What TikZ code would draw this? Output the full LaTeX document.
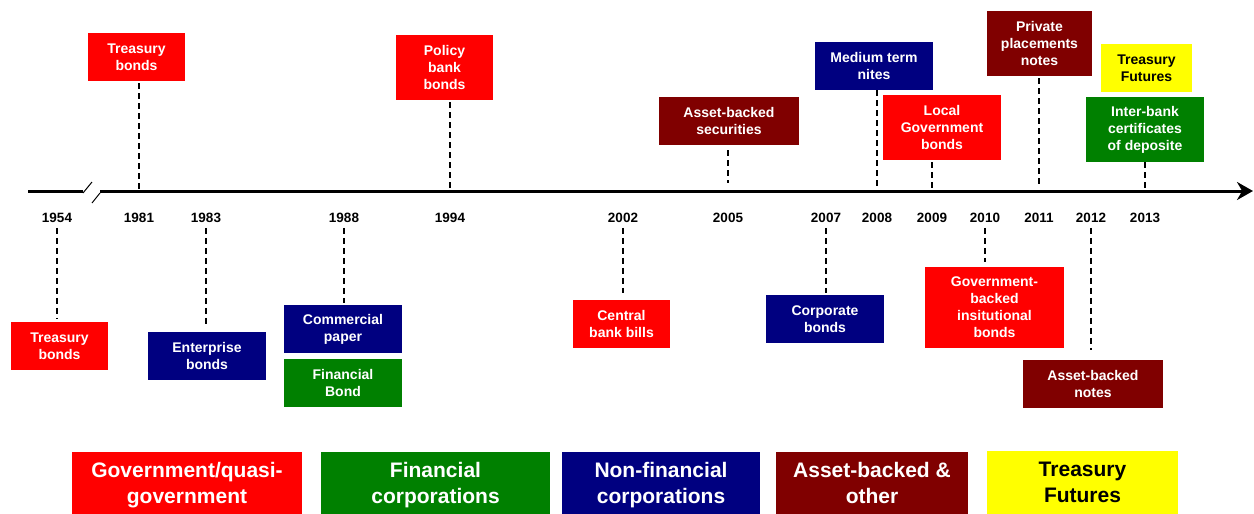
\documentclass[tikz,border=0pt]{standalone}
\usepackage{fontspec}
\setmainfont{Liberation Sans}
\usetikzlibrary{arrows.meta}
\definecolor{govred}{RGB}{255,0,0}
\definecolor{fingreen}{RGB}{0,128,0}
\definecolor{corpnavy}{RGB}{0,0,128}
\definecolor{absmaroon}{RGB}{128,0,0}
\definecolor{futyellow}{RGB}{255,255,0}

\begin{document}
\begin{tikzpicture}[x=1pt,y=-1pt]
 \tikzset{box/.style={inner sep=0pt,align=center,text=white,font=\fontsize{14}{17}\selectfont\bfseries},
   gov/.style={box,fill=govred}, fin/.style={box,fill=fingreen},
   corp/.style={box,fill=corpnavy}, abs/.style={box,fill=absmaroon},
   fut/.style={box,fill=futyellow,text=black},
   leader/.style={dash pattern=on 6pt off 4pt,line width=1.4pt,shorten <=2pt},
   yearlbl/.style={inner sep=0pt,font=\fontsize{13.5}{16}\selectfont\bfseries},
   legend/.style={minimum height=62,text depth=-7pt,font=\fontsize{21}{26}\selectfont\bfseries}}
 \useasboundingbox (0,0) rectangle (1254,514);

 % time axis, broken after 1954
 \coordinate (axL) at (28,191);
 \coordinate (brkL) at (83,191);
 \coordinate (brkR) at (100,191);
 \coordinate (axR) at (1253,191);
 \draw[line width=3pt] (axL) -- (brkL);
 \draw[line width=3pt,-{Stealth[length=16pt,width=18pt]}] (brkR) -- (axR);
 \draw[line width=1pt] (brkL) ++(0,2) -- ++(9,-11);
 \draw[line width=1pt] (brkR) ++(0,2) -- ++(-8,10);

 \foreach \yr/\xx in {1954/57,1981/139,1983/206,1988/344,1994/450,2002/623,2005/728,
   2007/826,2008/877,2009/932,2010/985,2011/1039,2012/1091,2013/1145}
   \node[yearlbl] (y\yr) at (\xx,218) {\yr};

 % above the axis
 \node[gov,minimum width=97,minimum height=48] (tb81) at (136.5,57) {Treasury\\bonds};
 \node[gov,minimum width=97,minimum height=65] (pbb) at (444.5,67.5) {Policy\\bank\\bonds};
 \node[abs,minimum width=140,minimum height=48] (abs) at (729,121) {Asset-backed\\securities};
 \node[corp,minimum width=118,minimum height=48] (mtn) at (874,66) {Medium term\\nites};
 \node[gov,minimum width=118,minimum height=65] (lgb) at (942,127.5) {Local\\Government\\bonds};
 \node[abs,minimum width=105,minimum height=65] (ppn) at (1039.5,43.5) {Private\\placements\\notes};
 \node[fut,minimum width=91,minimum height=48] (tf) at (1146.5,68) {Treasury\\Futures};
 \node[fin,minimum width=118,minimum height=65] (ibcd) at (1145,129.5) {Inter-bank\\certificates\\of deposite};

 \draw[leader] (tb81.south -| y1981) -- (y1981 |- axL);
 \draw[leader] (pbb.south -| y1994) -- (y1994 |- axL);
 \draw[leader,shorten <=5pt,shorten >=8pt] (abs.south -| y2005) -- (y2005 |- axL);
 \draw[leader,shorten <=0pt] (mtn.south -| y2008) -- (y2008 |- axL);
 \draw[leader] (lgb.south -| y2009) -- (y2009 |- axL);
 \draw[leader,shorten >=6pt] (ppn.south -| y2011) -- (y2011 |- axL);
 \draw[leader,shorten <=0pt] (ibcd.south -| y2013) -- (y2013 |- axL);

 % below the axis
 \node[gov,minimum width=97,minimum height=48] (tb54) at (59.5,346) {Treasury\\bonds};
 \node[corp,minimum width=118,minimum height=48] (eb) at (207,356) {Enterprise\\bonds};
 \node[corp,minimum width=118,minimum height=48] (cp) at (343,329) {Commercial\\paper};
 \node[fin,minimum width=118,minimum height=48] (fb) at (343,383) {Financial\\Bond};
 \node[gov,minimum width=97,minimum height=48] (cbb) at (621.5,324) {Central\\bank bills};
 \node[corp,minimum width=118,minimum height=48] (cb) at (825,319) {Corporate\\bonds};
 \node[gov,minimum width=139,minimum height=81] (gbib) at (994.5,307.5) {Government-\\backed\\insitutional\\bonds};
 \node[abs,minimum width=140,minimum height=48] (abn) at (1093,384) {Asset-backed\\notes};

 \draw[leader,shorten <=5pt,shorten >=3pt] (y1954.south) -- (y1954 |- tb54.north);
 \draw[leader,shorten <=5pt,shorten >=8pt] (y1983.south) -- (y1983 |- eb.north);
 \draw[leader,shorten <=5pt,shorten >=2pt] (y1988.south) -- (y1988 |- cp.north);
 \draw[leader,shorten <=5pt,shorten >=7pt] (y2002.south) -- (y2002 |- cbb.north);
 \draw[leader,shorten <=5pt,shorten >=2pt] (y2007.south) -- (y2007 |- cb.north);
 \draw[leader,shorten <=5pt,shorten >=5pt] (y2010.south) -- (y2010 |- gbib.north);
 \draw[leader,shorten <=5pt,shorten >=10pt] (y2012.south) -- (y2012 |- abn.north);

 % colour key
 \node[gov,legend,minimum width=230] (kgov) at (187,483) {Government/quasi-\\government};
 \node[fin,legend,minimum width=229] (kfin) at (435.5,483) {Financial\\corporations};
 \node[corp,legend,minimum width=198] (kcorp) at (661,483) {Non-financial\\corporations};
 \node[abs,legend,minimum width=192] (kabs) at (872,483) {Asset-backed \&\\other};
 \node[fut,legend,minimum width=191,minimum height=63] (kfut) at (1082.5,482.5) {Treasury\\Futures};
\end{tikzpicture}
\end{document}
